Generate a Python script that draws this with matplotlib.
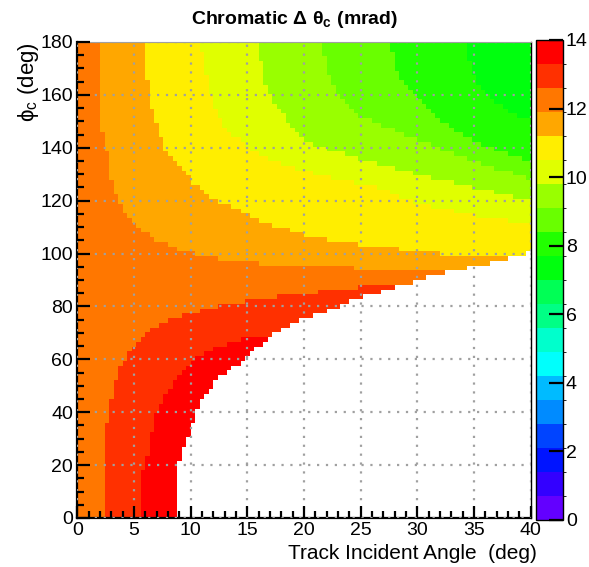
import colorsys
import numpy as np
import matplotlib
matplotlib.use('Agg')
import matplotlib.pyplot as plt
from matplotlib.path import Path
from matplotlib.colors import ListedColormap, BoundaryNorm
from matplotlib.ticker import MultipleLocator

plt.rcParams['font.family'] = ['Liberation Sans', 'DejaVu Sans']
plt.rcParams['mathtext.fontset'] = 'custom'
plt.rcParams['mathtext.rm'] = 'Liberation Sans'
plt.rcParams['mathtext.default'] = 'regular'

# histogram binning
n_x, n_phi = 100, 100
levels = np.linspace(0, 14, 21)
cbar_ticks = [0, 2, 4, 6, 8, 10, 12, 14]

# band edges, points are (track angle, phi_c) in deg
# upper family: value drops going up / right
cont_77 = [(34.3, 180), (34.5, 174), (35.1, 166), (36.5, 159), (38, 154), (40, 150)]
cont_84 = [(27.7, 180), (28.0, 171), (28.6, 166), (29.2, 162.6), (30.1, 158.8),
           (31.5, 152.5), (33, 147.4), (35.1, 142.4), (38, 137.4), (40, 135)]
cont_91 = [(21.7, 180), (21.9, 169), (23.0, 160), (24.8, 152.5), (26.7, 148.7),
           (30, 143), (35, 135), (40, 128)]
cont_98 = [(16.0, 180), (16.4, 165), (17.4, 156.3), (18.9, 148.7), (20.1, 142.4),
           (21.8, 139.9), (24.8, 136.1), (26.7, 133.6), (30, 130), (35, 125), (40, 120)]
cont_105 = [(10.8, 180), (11.3, 169), (11.85, 159), (12.7, 150), (13.5, 146),
            (15.1, 140), (17.4, 135), (20.1, 131), (22.7, 128.5), (26.7, 124.8),
            (30, 119), (35, 114.5), (40, 111)]
cont_112 = [(6.0, 180), (6.1, 169), (6.4, 157.5), (6.85, 151), (7.3, 146), (7.7, 140),
            (8.6, 135), (9.5, 131), (10.1, 127.3), (11.0, 123.5), (12.1, 120.3),
            (13.5, 117.8), (16, 112.2), (20.1, 107.1), (22.7, 104.6), (26.5, 102.7),
            (30.1, 100.8), (35.1, 98.3), (38, 98.2)]
cont_119 = [(1.9, 180), (2.0, 149), (2.45, 143), (2.75, 135), (3.0, 128.5), (3.5, 121),
            (3.9, 117), (4.5, 113), (5.7, 108.4), (7.2, 104.6), (8.6, 102.1), (11.0, 99),
            (13.5, 97.3), (17, 96), (20, 95), (22.7, 94.6), (26.3, 94.4), (30, 93.7),
            (33, 93.3)]
# lower family: value rises going right
cont_126 = [(2.4, 0), (2.4, 31), (2.75, 39), (3.2, 50), (3.6, 56), (4.2, 59.7), (4.9, 64.8),
            (5.7, 68.5), (7.15, 73), (8.6, 75.5), (10.1, 77.4), (12.7, 80.5), (17.4, 83.5),
            (22.7, 86.3), (26.5, 88), (28.5, 87.5)]
cont_133 = [(5.6, 0), (5.7, 16), (6.1, 21), (6.6, 32.6), (7.15, 41.5), (8.0, 47.8),
            (8.9, 54), (10.1, 59), (11.55, 63), (13.2, 66), (15, 68.5), (16.5, 68.5)]
# edge of the empty (white) region
white_edge = [(8.77, 0), (8.77, 18), (9.3, 25), (10.1, 34), (10.6, 41), (11.3, 46.5),
              (12.2, 51.8), (13.0, 54.5), (15.1, 61.5), (17.4, 69.5), (20.1, 75.5),
              (22.7, 79.5), (24.8, 83), (26.5, 85), (29.2, 88.7), (32.1, 92.5),
              (35.1, 95), (38, 98.2), (40, 100.5)]

upper = [(7.7, cont_77), (8.4, cont_84), (9.1, cont_91), (9.8, cont_98),
         (10.5, cont_105), (11.2, cont_112), (11.9, cont_119)]
lower = [(12.6, cont_126), (13.3, cont_133)]

xe = np.linspace(0, 40, n_x + 1)
ye = np.linspace(0, 180, n_phi + 1)
X, Y = np.meshgrid(0.5 * (xe[1:] + xe[:-1]), 0.5 * (ye[1:] + ye[:-1]))
pts = np.column_stack([X.ravel(), Y.ravel()])

z = np.full(X.size, 7.35)
for lev, line in upper:
    inside = Path([(0, 180)] + line + [(40, 0), (0, 0)]).contains_points(pts)
    z[inside] = np.maximum(z[inside], lev + 0.35)
for lev, line in lower:
    inside = Path(line + [(40, 0)]).contains_points(pts)
    z[inside] = np.maximum(z[inside], lev + 0.35)
empty = Path(white_edge + [(40, 0)]).contains_points(pts)
z = np.ma.masked_array(z, empty).reshape(X.shape)

# ROOT "pretty" palette, 20 contours
cols = []
for j in range(20):
    k = int((j + 0.99) * 50 / 20)
    hue = 280 - (k + 1) * 5.6
    cols.append(colorsys.hls_to_rgb(hue / 360, 0.5, 1.0))
cmap = ListedColormap(cols)
norm = BoundaryNorm(levels, cmap.N)

fig = plt.figure(figsize=(5.89, 5.67), dpi=100)
ax = fig.add_axes([77.3 / 589, 1 - 518 / 567, 453.4 / 589, 476 / 567])
mesh = ax.pcolormesh(xe, ye, z, cmap=cmap, norm=norm, antialiased=False,
                     edgecolors='none', zorder=1)

ax.set_xlim(0, 40)
ax.set_ylim(0, 180)
ax.xaxis.set_major_locator(MultipleLocator(5))
ax.xaxis.set_minor_locator(MultipleLocator(1))
ax.yaxis.set_major_locator(MultipleLocator(20))
ax.yaxis.set_minor_locator(MultipleLocator(5))
ax.set_axisbelow(False)
ax.grid(True, which='major', color='#a0a0a0', linestyle=(0, (1, 3)), linewidth=1.6)
ax.tick_params(which='both', direction='in', width=1.6, top=False, right=False,
               labelsize=14, color='black')
ax.tick_params(which='major', length=9)
ax.tick_params(which='minor', length=5)
ax.tick_params(axis='x', pad=3)
ax.tick_params(axis='y', pad=3)
for s in ['left', 'bottom']:
    ax.spines[s].set_linewidth(1.6)
ax.spines['top'].set_color('#a0a0a0')
ax.spines['right'].set_linewidth(1.0)

ax.set_xlabel('Track Incident Angle  (deg)', fontsize=15, loc='right')
ax.xaxis.set_label_coords(1.014, -0.055)
ax.set_ylabel(r'$\phi_c$ (deg)', fontsize=16, loc='top')
ax.yaxis.set_label_coords(-0.08, 1.0)

fig.text(0.5, 1 - 20 / 567, r'Chromatic $\Delta$ $\theta_c$ (mrad)', ha='center',
         va='center', fontsize=14, fontweight='bold')

cax = fig.add_axes([536 / 589, 1 - 520 / 567, 27 / 589, 480 / 567])
cb = fig.colorbar(mesh, cax=cax, ticks=cbar_ticks)
cb.ax.tick_params(direction='in', length=10, width=1.6, labelsize=14, pad=2)
cb.outline.set_linewidth(1.0)

fig.savefig('out.png', dpi=100)
